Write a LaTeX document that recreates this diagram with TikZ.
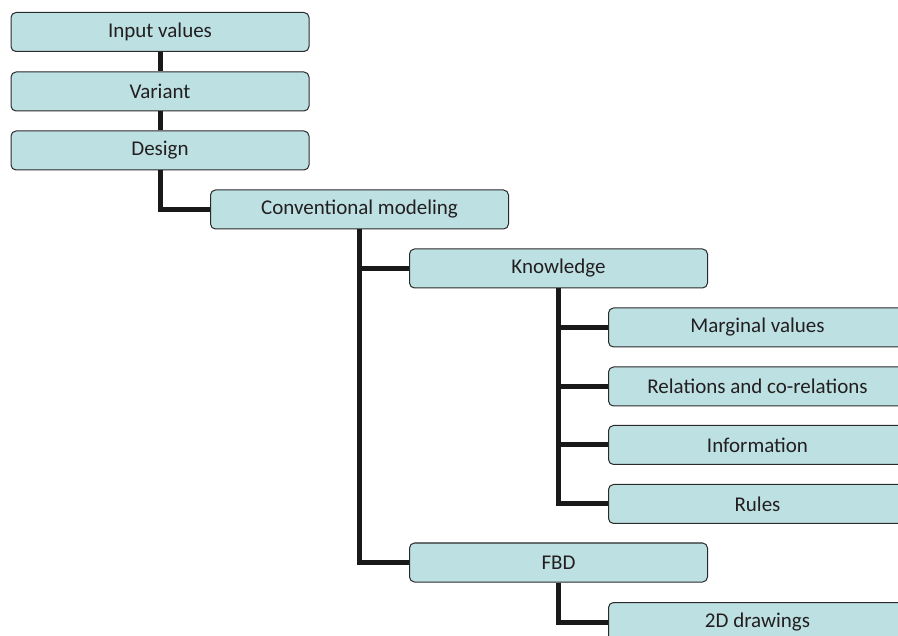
\documentclass[tikz,border=0pt]{standalone}
\usepackage{fontspec}
\setmainfont{Carlito}
\definecolor{boxfill}{HTML}{BDE0E3}
\definecolor{boxline}{HTML}{2A2A2A}
\definecolor{txt}{HTML}{231F20}
\begin{document}
\begin{tikzpicture}[x=1pt,y=-1pt,
  box/.style={rectangle, rounded corners=5pt, draw=boxline, line width=1pt, fill=boxfill,
    minimum width=298pt, minimum height=39pt, inner sep=0pt, text=txt,
    font=\fontsize{21}{24}\selectfont},
  conn/.style={line width=5pt, draw=black!90, line join=miter}]
\useasboundingbox (0,0) rectangle (898,636);
\clip (0,0) rectangle (898,636);
\node[box] (input) at (160,32) {Input values};
\node[box] (variant) at (160,91.5) {Variant};
\node[box] (design) at (160,150.5) {Design};
\node[box] (conv) at (359.5,209.5) {Conventional modeling};
\node[box] (know) at (558.5,268.5) {Knowledge};
\node[box] (marg) at (757.5,327.5) {Marginal values};
\node[box] (rel) at (757.5,386.5) {Relations and co-relations};
\node[box] (info) at (757.5,445) {Information};
\node[box] (rules) at (757.5,504) {Rules};
\node[box] (fbd) at (558.5,562.5) {FBD};
\node[box] (draw2d) at (757.5,622) {2D drawings};
\begin{scope}[on background layer/.try]
\end{scope}
\draw[conn] (input.south) -- (variant.north);
\draw[conn] (variant.south) -- (design.north);
\draw[conn] (design.south) |- (conv.west);
\draw[conn] (conv.south) |- (fbd.west);
\draw[conn] (conv.south |- know.west) -- (know.west);
\draw[conn] (know.south) |- (rules.west);
\draw[conn] (know.south |- marg.west) -- (marg.west);
\draw[conn] (know.south |- rel.west) -- (rel.west);
\draw[conn] (know.south |- info.west) -- (info.west);
\draw[conn] (fbd.south) |- (draw2d.west);
\end{tikzpicture}
\end{document}
